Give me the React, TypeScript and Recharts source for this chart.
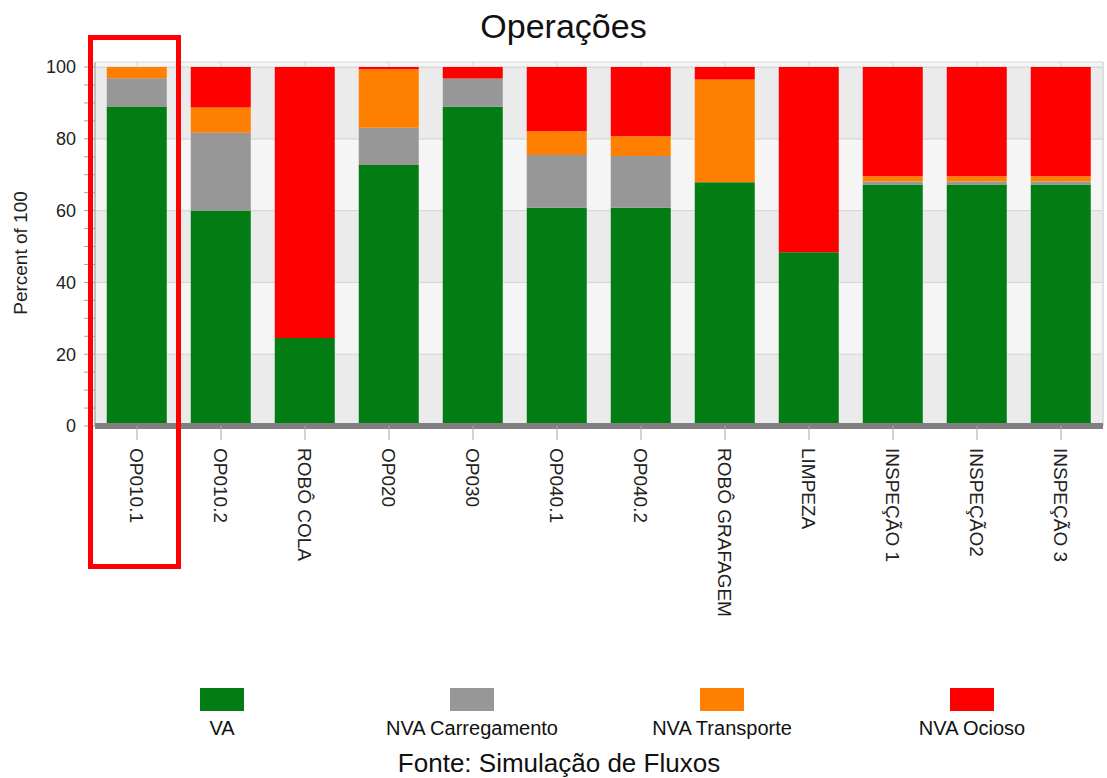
import React from "react";
import { BarChart, Bar, XAxis, YAxis, CartesianGrid, ReferenceArea } from "recharts";

const operacoes = [
  "OP010.1",
  "OP010.2",
  "ROBÔ COLA",
  "OP020",
  "OP030",
  "OP040.1",
  "OP040.2",
  "ROBÔ GRAFAGEM",
  "LIMPEZA",
  "INSPEÇÃO 1",
  "INSPEÇÃO2",
  "INSPEÇÃO 3",
];
const va = [89, 60, 24.5, 72.7, 88.9, 60.8, 60.8, 67.9, 48.4, 67.3, 67.3, 67.3];
const nvaCarregamento = [7.9, 21.7, 0, 10.4, 7.9, 14.7, 14.4, 0, 0, 0.8, 0.8, 0.8];
const nvaTransporte = [3.1, 7.0, 0, 16.3, 0, 6.6, 5.5, 28.6, 0, 1.5, 1.5, 1.5];
const nvaOcioso = [0, 11.3, 75.5, 0.6, 3.2, 17.9, 19.3, 3.5, 51.6, 30.4, 30.4, 30.4];

const seriesNames = ["VA", "NVA Carregamento", "NVA Transporte", "NVA Ocioso"];
const yTicks = [0, 5, 10, 15, 20, 25, 30, 35, 40, 45, 50, 55, 60, 65, 70, 75, 80, 85, 90, 95, 100];
const yLabels = [0, 20, 40, 60, 80, 100];
const yMax = 101.4;

const colors = ["#027d13", "#979797", "#ff8000", "#ff0000"];
const stripeFill = ["#ebebeb", "#f5f5f5"];
const FONT = "Arial, 'Liberation Sans', sans-serif";

const data = operacoes.map((name, i) => ({
  name,
  va: va[i],
  carregamento: nvaCarregamento[i],
  transporte: nvaTransporte[i],
  ocioso: nvaOcioso[i],
}));
const keys = ["va", "carregamento", "transporte", "ocioso"];
// horizontal background bands between labelled ticks
const bands = yLabels.map((v, i) => [v, i + 1 < yLabels.length ? yLabels[i + 1] : yMax]);

const XTick = (props: any) => {
  const { x, y, payload } = props;
  return (
    <g transform={`translate(${x},${y})`}>
      <text
        transform="rotate(90)"
        x={6}
        y={0}
        dy="0.36em"
        textAnchor="start"
        fill="#222"
        fontSize={19}
        fontFamily={FONT}
      >
        {payload.value}
      </text>
    </g>
  );
};

const YLabel = (props: any) => {
  const { x, y, height } = props.viewBox;
  const cx = x + 20;
  const cy = y + height / 2 + 9;
  return (
    <text
      x={cx}
      y={cy}
      transform={`rotate(-90, ${cx}, ${cy})`}
      textAnchor="middle"
      dominantBaseline="central"
      fill="#222"
      fontSize={19}
      fontFamily={FONT}
    >
      Percent of 100
    </text>
  );
};

export default function App() {
  return (
    <div style={{ position: "relative", width: 1107, height: 778, background: "#fff", fontFamily: FONT }}>
      <style>{`body{margin:0}`}</style>
      <div
        style={{
          position: "absolute",
          top: 9,
          left: 10,
          width: 1107,
          textAlign: "center",
          fontSize: 34,
          lineHeight: 1,
          color: "#111",
        }}
      >
        Operações
      </div>
      <BarChart
        width={1107}
        height={680}
        data={data}
        margin={{ top: 62, right: 4, left: 0, bottom: 0 }}
        barCategoryGap="14%"
      >
        <YAxis
          yAxisId="main"
          width={95}
          domain={[0, yMax]}
          ticks={yTicks}
          interval={0}
          tickSize={11}
          tickMargin={8}
          axisLine={{ stroke: "#a6a6a6" }}
          tickLine={{ stroke: "#a6a6a6" }}
          tick={{ fill: "#222", fontSize: 18, fontFamily: FONT }}
          tickFormatter={(v: number) => (yLabels.includes(v) ? String(v) : "")}
          label={<YLabel />}
        />
        <YAxis
          yAxisId="right"
          orientation="right"
          width={0}
          domain={[0, yMax]}
          tick={false}
          tickLine={false}
          axisLine={{ stroke: "#a8a8a8", strokeWidth: 3 }}
        />
        {bands.map(([a, b], i) => (
          <ReferenceArea
            key={`band-${a}`}
            yAxisId="main"
            y1={a}
            y2={b}
            fill={stripeFill[i % 2]}
            fillOpacity={1}
            stroke="#d6d6d6"
            strokeWidth={1}
            zIndex={-60}
          />
        ))}
        <CartesianGrid horizontal={false} stroke="#d6d6d6" zIndex={-55} />
        {keys.map((k, i) => (
          <Bar
            key={k}
            yAxisId="main"
            dataKey={k}
            name={seriesNames[i]}
            stackId="a"
            fill={colors[i]}
            isAnimationActive={false}
          />
        ))}
        <XAxis
          dataKey="name"
          interval={0}
          height={254}
          tickSize={14}
          tickMargin={2}
          axisLine={{ stroke: "#808080", strokeWidth: 6 }}
          tickLine={{ stroke: "#a6a6a6" }}
          tick={<XTick />}
        />
      </BarChart>
      {/* legend */}
      <div style={{ position: "absolute", top: 688, left: 97, display: "flex" }}>
        {seriesNames.map((n, i) => (
          <div key={n} style={{ width: 250, display: "flex", flexDirection: "column", alignItems: "center" }}>
            <div style={{ width: 44, height: 23, background: colors[i] }} />
            <div style={{ marginTop: 7, fontSize: 20, lineHeight: 1, color: "#111", whiteSpace: "nowrap" }}>{n}</div>
          </div>
        ))}
      </div>
      <div
        style={{
          position: "absolute",
          top: 750,
          left: 0,
          width: 1118,
          textAlign: "center",
          fontSize: 26,
          lineHeight: 1,
          color: "#111",
        }}
      >
        Fonte: Simulação de Fluxos
      </div>
      {/* destaque OP010.1 */}
      <div
        style={{
          position: "absolute",
          left: 88,
          top: 35,
          width: 93,
          height: 534,
          border: "5px solid #ff0000",
          boxSizing: "border-box",
        }}
      />
    </div>
  );
}
